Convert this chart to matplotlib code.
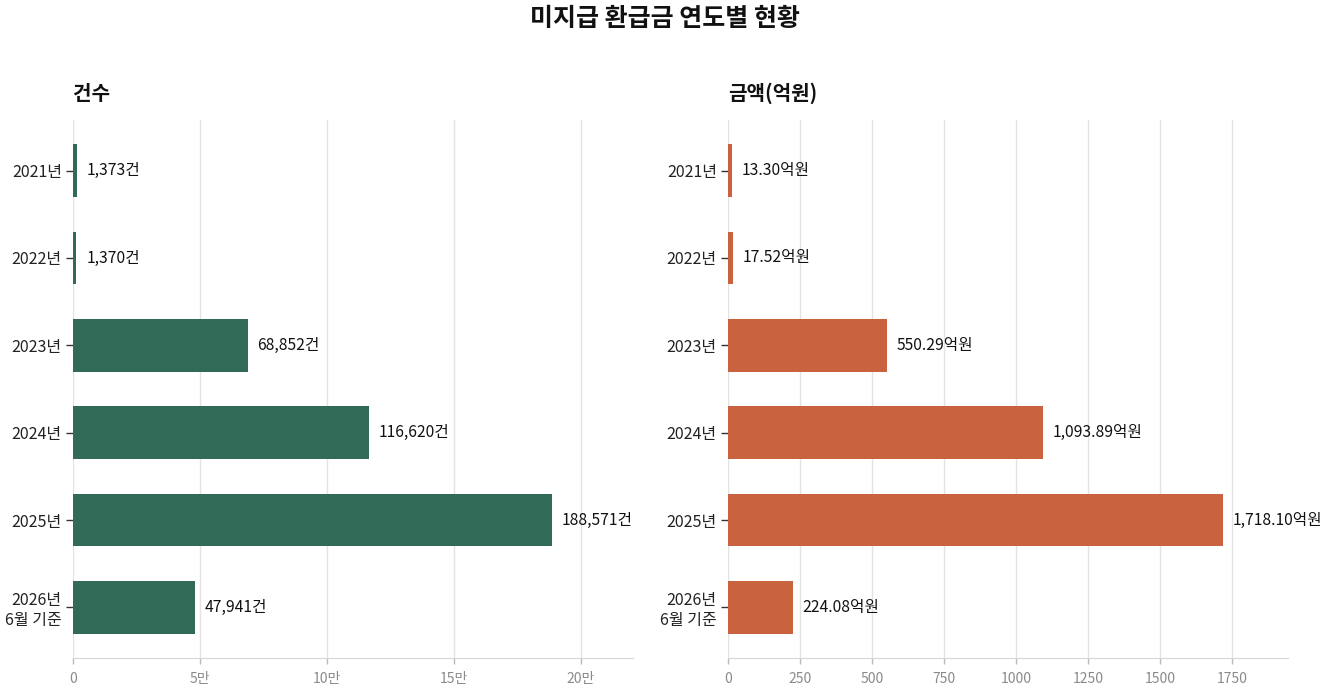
import matplotlib
matplotlib.use("Agg")
from matplotlib import pyplot as plt

plt.rcParams['font.family'] = ['Noto Sans CJK KR', 'DejaVu Sans']

# data
years = ['2021년', '2022년', '2023년', '2024년', '2025년', '2026년\n6월 기준']
counts = [1373, 1370, 68852, 116620, 188571, 47941]
amounts = [13.30, 17.52, 550.29, 1093.89, 1718.10, 224.08]

count_ticks = [0, 50000, 100000, 150000, 200000]
count_tick_labels = ['0', '5만', '10만', '15만', '20만']
amount_ticks = [0, 250, 500, 750, 1000, 1250, 1500, 1750]

GREEN = '#316b57'
ORANGE = '#c8623f'

fig = plt.figure(figsize=(13.3, 6.96), dpi=100)
ax1 = fig.add_axes([0.0549, 0.0546, 0.421, 0.773])
ax2 = fig.add_axes([0.5474, 0.0546, 0.421, 0.773])

fig.text(0.5, 0.972, '미지급 환급금 연도별 현황', ha='center', va='center',
         fontsize=18, fontweight='bold', color='#111111')


def draw(ax, vals, color, labels, xmax, ticks, ticklabels, title):
    y = list(range(len(vals)))
    ax.barh(y, vals, height=0.6, color=color, zorder=3)
    ax.set_ylim(len(vals) - 1 + 0.58, -0.58)
    ax.set_xlim(0, xmax)
    ax.set_yticks(y)
    ax.set_yticklabels(years, fontsize=11.5, color='#222222')
    ax.set_xticks(ticks)
    ax.set_xticklabels(ticklabels, fontsize=10, color='#8a8a8a')
    ax.tick_params(axis='y', length=5, width=1, color='#333333', pad=3)
    ax.tick_params(axis='x', length=4, width=1, color='#bbbbbb', pad=6)
    ax.grid(axis='x', color='#e3e3e3', linewidth=1, zorder=0)
    for s in ['top', 'right', 'left']:
        ax.spines[s].set_visible(False)
    ax.spines['bottom'].set_color('#d6d6d6')
    for yi, v, lab in zip(y, vals, labels):
        ax.annotate(lab, (v, yi), xytext=(7, 0), textcoords='offset points',
                    va='center', ha='left', fontsize=11.3, color='#111111')
    ax.text(0, 1.05, title, transform=ax.transAxes, ha='left', va='center',
            fontsize=14.5, fontweight='bold', color='#111111')


draw(ax1, counts, GREEN, ['{:,}건'.format(v) for v in counts], 220500,
     count_ticks, count_tick_labels, '건수')
draw(ax2, amounts, ORANGE, ['{:,.2f}억원'.format(v) for v in amounts], 1944,
     amount_ticks, [str(t) for t in amount_ticks], '금액(억원)')

plt.savefig('out.png', dpi=100)
